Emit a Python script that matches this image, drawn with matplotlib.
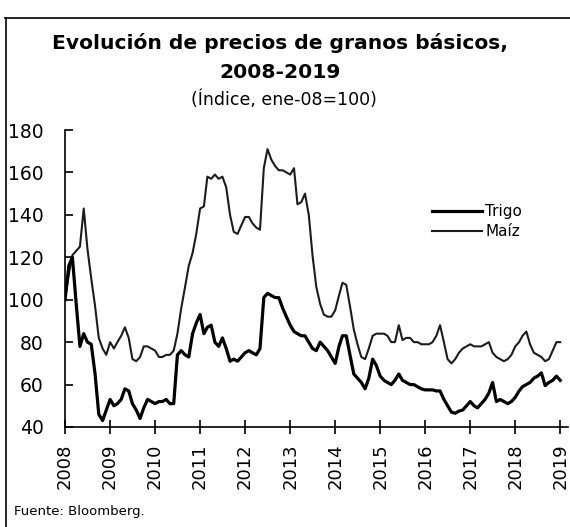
import pandas as pd
import matplotlib
matplotlib.use('Agg')
import matplotlib.pyplot as plt
from matplotlib.lines import Line2D

# Serie mensual ene-2008 a ene-2019 (indice, ene-08=100)
fechas = pd.date_range('2008-01-01', periods=133, freq='MS')

trigo = [100, 116, 120, 98, 78, 84, 80, 79, 65, 46, 43, 48,
         53, 50, 51, 53, 58, 57, 51, 48, 44, 49, 53, 52,
         51, 52, 52, 53, 51, 51, 74, 76, 74, 73, 84, 89,
         93, 84, 87, 88, 80, 78, 82, 77, 71, 72, 71, 73,
         75, 76, 75, 74, 77, 101, 103, 102, 101, 101, 96, 92,
         88, 85, 84, 83, 83, 80, 77, 76, 80, 78, 76, 73,
         70, 78, 83, 83, 74, 65, 63, 61, 58, 63, 72, 69,
         64, 62, 61, 60, 62, 65, 62, 61, 60, 60, 59, 58,
         57.5, 57.5, 57.5, 57, 57, 53, 50, 47, 46.5, 47.5, 48, 50,
         52, 50, 49, 51, 53, 56, 61, 52, 53, 52, 51, 52,
         54, 57, 59, 60, 61, 63, 64, 65.5, 59.5, 61, 62, 64,
         62]

maiz = [100, 112, 121, 123, 125, 143, 124, 110, 97, 82, 77, 74,
        80, 77, 80, 83, 87, 82, 72, 71, 73, 78, 78, 77,
        76, 73, 73, 74, 74, 76, 84, 96, 106, 116, 122, 131,
        143, 144, 158, 157, 159, 157, 158, 153, 140, 132, 131, 135,
        139, 139, 136, 134, 133, 162, 171, 166, 163, 161, 161, 160,
        159, 162, 145, 146, 150, 140, 121, 106, 98, 93, 92, 92,
        95, 102, 108, 107, 97, 86, 79, 73, 72, 77, 83, 84,
        84, 84, 83, 80, 80, 88, 81, 82, 82, 80, 80, 79,
        79, 79, 80, 83, 88, 80, 72, 70, 72, 75, 77, 78,
        79, 78, 78, 78, 79, 80, 75, 73, 72, 71, 72, 74,
        78, 80, 83, 85, 79, 75, 74, 73, 71, 72, 76, 80,
        80]

anios = list(range(2008, 2020))
y_ticks = [40, 60, 80, 100, 120, 140, 160, 180]

plt.rcParams['font.family'] = 'DejaVu Sans'

W, H = 570, 527
fig = plt.figure(figsize=(W / 100, H / 100), dpi=100)
ax = fig.add_axes([65 / W, 1 - 427 / H, (568 - 65) / W, (427 - 130) / H])

l_maiz, = ax.plot(fechas, maiz, color='#1c1c1c', lw=1.5)
l_trigo, = ax.plot(fechas, trigo, color='black', lw=2.3)

ax.set_ylim(40, 180)
ax.set_xlim(pd.Timestamp('2008-01-01'), pd.Timestamp('2019-03-05'))
ax.set_yticks(y_ticks)
ax.set_xticks([pd.Timestamp(f'{a}-01-01') for a in anios])
ax.set_xticklabels([str(a) for a in anios], rotation=90, fontsize=13)
ax.set_yticklabels([str(v) for v in y_ticks], fontsize=13.5)

for s in ['top', 'right']:
    ax.spines[s].set_visible(False)
for s in ['left', 'bottom']:
    ax.spines[s].set_linewidth(1.2)
ax.tick_params(axis='y', direction='in', length=6, width=1.2, pad=15.5)
ax.tick_params(axis='x', direction='inout', length=10, width=1.2, pad=7)

ax.legend([l_trigo, l_maiz], ['Trigo', 'Maíz'], loc='upper left',
          bbox_to_anchor=(432 / W, 1 - 204 / H), bbox_transform=fig.transFigure,
          frameon=False, fontsize=11, handlelength=3.3, handletextpad=0.2,
          labelspacing=0.35, borderpad=0, borderaxespad=0)

# titulos
fig.text(280 / W, 1 - 43 / H, 'Evolución de precios de granos básicos,',
         ha='center', va='center', fontsize=14.6, fontweight='bold')
fig.text(280 / W, 1 - 72 / H, '2008-2019', ha='center', va='center',
         fontsize=14.6, fontweight='bold')
fig.text(284 / W, 1 - 100 / H, '(Índice, ene-08=100)', ha='center', va='center',
         fontsize=12.5)
fig.text(14 / W, 1 - 512 / H, 'Fuente: Bloomberg.', ha='left', va='center',
         fontsize=9.5)

# marco del recuadro
fig.add_artist(Line2D([5 / W, 1], [1 - 18 / H, 1 - 18 / H], color='black', lw=1.2,
                      transform=fig.transFigure))
fig.add_artist(Line2D([6 / W, 6 / W], [0, 1 - 18 / H], color='black', lw=1.2,
                      transform=fig.transFigure))

fig.savefig('out.png', dpi=100)
